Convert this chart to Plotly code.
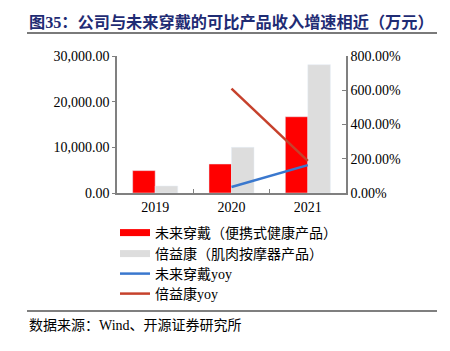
import plotly.graph_objects as go

years = ["2019", "2020", "2021"]
wlkj_rev = [4900, 6350, 16700]
byk_rev = [1530, 10000, 28100]
yoy_years = ["2020", "2021"]
wlkj_yoy = [0.35, 1.63]
byk_yoy = [6.10, 1.88]

name_wlkj_bar = "未来穿戴（便携式健康产品）"
name_byk_bar = "倍益康（肌肉按摩器产品）"
name_wlkj_yoy = "未来穿戴yoy"
name_byk_yoy = "倍益康yoy"

title_text = "图35：公司与未来穿戴的可比产品收入增速相近（万元）"
source_text = "数据来源：Wind、开源证券研究所"

RED = "#FF0000"
GRAY = "#DDDDDD"
BLUE = "#3A78CE"
BROWN = "#C6412C"
FONT = "Liberation Serif, Noto Sans CJK SC"

fig = go.Figure()
fig.add_trace(go.Bar(x=years, y=wlkj_rev, marker_color=RED, showlegend=False, name=name_wlkj_bar))
fig.add_trace(go.Bar(x=years, y=byk_rev, marker_color=GRAY, showlegend=False, name=name_byk_bar))
# legend swatches for bars (wide rectangles)
fig.add_trace(go.Scatter(x=[None], y=[None], mode="lines", line=dict(color=RED, width=7),
                         name=name_wlkj_bar, legend="legend"))
fig.add_trace(go.Scatter(x=[None], y=[None], mode="lines", line=dict(color=GRAY, width=7),
                         name=name_byk_bar, legend="legend2"))
fig.add_trace(go.Scatter(x=yoy_years, y=wlkj_yoy, mode="lines", line=dict(color=BLUE, width=2.5),
                         name=name_wlkj_yoy, yaxis="y2", legend="legend3"))
fig.add_trace(go.Scatter(x=yoy_years, y=byk_yoy, mode="lines", line=dict(color=BROWN, width=2.5),
                         name=name_byk_yoy, yaxis="y2", legend="legend4"))

def leg(ypix):
    return dict(x=115 / 450, xref="container", xanchor="left",
                y=1 - ypix / 351, yref="container", yanchor="middle",
                font=dict(size=14), bgcolor="rgba(0,0,0,0)", itemwidth=30)

fig.update_layout(
    width=450, height=351,
    margin=dict(l=117, r=104, t=56, b=158, autoexpand=False),
    paper_bgcolor="white", plot_bgcolor="white",
    font=dict(family=FONT, size=14, color="black"),
    barmode="group", bargap=0.41, bargroupgap=0,
    xaxis=dict(type="category", categoryorder="array", categoryarray=years,
               showline=True, linecolor="#808080", linewidth=1.5,
               ticks="inside", ticklen=4, tickcolor="#808080", tickson="boundaries",
               showgrid=False, tickfont=dict(size=14)),
    yaxis=dict(range=[0, 30000], tickvals=[0, 10000, 20000, 30000], tickformat=",.2f",
               showline=True, linecolor="#808080", linewidth=1.5,
               ticks="outside", ticklen=3, tickcolor="#808080",
               showgrid=False, zeroline=False, tickfont=dict(size=14)),
    yaxis2=dict(range=[0, 8], tickvals=[0, 2, 4, 6, 8], tickformat=".2%",
                overlaying="y", side="right",
                showline=True, linecolor="#808080", linewidth=1.5,
                ticks="inside", ticklen=4, tickcolor="#808080",
                showgrid=False, zeroline=False, tickfont=dict(size=14)),
    legend=leg(233), legend2=leg(254), legend3=leg(274), legend4=leg(294),
    showlegend=True,
)

fig.add_annotation(text="<b>" + title_text + "</b>", xref="paper", yref="paper",
                   x=(27 - 117) / 229, y=1 + (56 - 22) / 137, xanchor="left", yanchor="middle",
                   showarrow=False, font=dict(size=16.2, color="#1F2C74", family=FONT))
fig.add_shape(type="line", xref="paper", yref="paper",
              x0=(27 - 117) / 229, x1=(437 - 117) / 229, y0=1 + (56 - 33) / 137, y1=1 + (56 - 33) / 137,
              line=dict(color="#7a7a7a", width=2))
fig.add_shape(type="line", xref="paper", yref="paper",
              x0=(27 - 117) / 229, x1=(437 - 117) / 229, y0=-(311 - 193) / 137, y1=-(311 - 193) / 137,
              line=dict(color="#555555", width=1.5))
fig.add_annotation(text=source_text, xref="paper", yref="paper",
                   x=(27 - 117) / 229, y=-(325 - 193) / 137, xanchor="left", yanchor="middle",
                   showarrow=False, font=dict(size=14, color="black", family=FONT))

fig.write_html("out.html")
